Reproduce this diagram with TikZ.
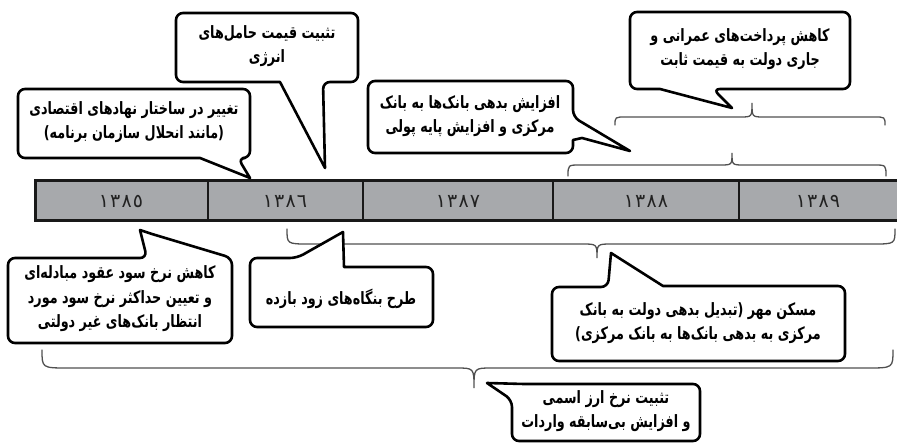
\documentclass[tikz,border=0pt]{standalone}
\usepackage{fontspec}
\newfontfamily\arabicfont[Script=Arabic,FakeStretch=0.75]{DejaVu Sans}
\newfontfamily\yearfont[Script=Arabic,LetterSpace=6]{DejaVu Sans}
\TeXXeTstate=1
\newcommand\myrl[1]{\beginR #1\endR}
\definecolor{barfill}{HTML}{A7A9AC}
\definecolor{bracecol}{HTML}{505050}
\definecolor{yearcol}{HTML}{222222}
\tikzset{
  callout/.style={draw=black, line width=2.6pt, fill=white, line join=round},
  ctext/.style={font=\arabicfont\bfseries\fontsize{17}{24.5}\selectfont, align=center, text=black, inner sep=0pt},
  bracestyle/.style={draw=bracecol, line width=1.3pt, line cap=round},
  yearlabel/.style={font=\yearfont\fontsize{19}{20}\selectfont, text=yearcol, inner sep=0pt},
  barstyle/.style={draw=black!90, line width=3pt, fill=barfill},
  divider/.style={draw=black!90, line width=2.4pt},
}
% x1 x2 xt yend yh ytip r r2
\newcommand\bracepath[8]{%
  \draw[bracestyle] (#1,#4) .. controls (#1,#5) .. ({#1+#7},#5) -- ({#3-#8},#5)
    .. controls (#3,#5) .. (#3,#6) .. controls (#3,#5) .. ({#3+#8},#5)
    -- ({#2-#7},#5) .. controls (#2,#5) .. (#2,#4);}
\begin{document}
\begin{tikzpicture}[x=1pt,y=-1pt]
\useasboundingbox[fill=white] (0,0) rectangle (897,443);

% timeline bar
\draw[barstyle] (35,181) rectangle (910,221);
\foreach \xx in {208,363,553,739} \draw[divider] (\xx,181) -- (\xx,221);
\node[yearlabel] (y85) at (121,201) {١٣٨٥};
\node[yearlabel] (y86) at (285,201) {١٣٨٦};
\node[yearlabel] (y87) at (458,201) {١٣٨٧};
\node[yearlabel] (y88) at (646,201) {١٣٨٨};
\node[yearlabel] (y89) at (818,201) {١٣٨٩};

% braces
\bracepath{615}{885}{752}{125}{117}{103}{11}{12}
\bracepath{568}{886}{732}{176}{165}{153}{12}{12}
\bracepath{287}{895}{597}{229}{244}{258}{22}{15}
\bracepath{42}{893}{474}{350}{368}{388}{26}{18}

% callout 1
\draw[callout] (176,50) [rounded corners=7pt] -- (176,13) -- (358,13) -- (358,82) -- (323,82)
  [sharp corners] -- (325,168) -- (280,82) [rounded corners=7pt] -- (176,82) -- cycle;
\node[ctext] (t1) at (267,46) {\myrl{تثبیت قیمت حامل‌های}\\\myrl{انرژی}};

% callout 2
\draw[callout] (18,120) [rounded corners=7pt] -- (18,89) -- (250,89) -- (250,158) -- (238,158)
  [sharp corners] -- (250,178) -- (200,158) [rounded corners=7pt] -- (18,158) -- cycle;
\node[ctext] (t2) at (134,122) {\myrl{تغییر در ساختار نهادهای اقتصادی}\\\myrl{(مانند انحلال سازمان برنامه)}};

% callout 3
\draw[callout] (368,117) [rounded corners=7pt] -- (368,81) -- (573,81) -- (573,117)
  [sharp corners] -- (630,151) -- (582,138) -- (573,140) [rounded corners=7pt] -- (573,153) -- (368,153) -- cycle;
\node[ctext] (t3) at (470,116) {\myrl{افزایش بدهی بانک‌ها به بانک}\\\myrl{مرکزی و افزایش پایه پولی}};

% callout 4
\draw[callout] (630,50) [rounded corners=7pt] -- (630,12) -- (850,12) -- (850,89) -- (713,89)
  [sharp corners] -- (732,108) -- (660,89) [rounded corners=7pt] -- (630,89) -- cycle;
\node[ctext] (t4) at (740,49) {\myrl{کاهش پرداخت‌های عمرانی و}\\\myrl{جاری دولت به قیمت ثابت}};

% callout 5
\draw[callout] (8,300) [rounded corners=7pt] -- (8,258) -- (147,258)
  [sharp corners] -- (140,230) -- (152,234) [rounded corners=7pt] -- (232,258) -- (232,343) -- (8,343) -- cycle;
\node[ctext] (t5) at (120,299) {\myrl{کاهش نرخ سود عقود مبادله‌ای}\\\myrl{و تعیین حداکثر نرخ سود مورد}\\\myrl{انتظار بانک‌های غیر دولتی}};

% callout 6
\draw[callout] (250,295) [rounded corners=7pt] -- (250,258) -- (297,258)
  [sharp corners] -- (343,232) -- (344,267) [rounded corners=7pt] -- (433,267) -- (433,327) -- (250,327) -- cycle;
\node[ctext] (t6) at (341,299) {\myrl{طرح بنگاه‌های زود بازده}};

% callout 7
\draw[callout] (552,320) [rounded corners=7pt] -- (552,287) -- (608,287)
  [sharp corners] -- (611,253) -- (663,286) [rounded corners=7pt] -- (845,286) -- (845,361) -- (552,361) -- cycle;
\node[ctext] (t7) at (698,323) {\myrl{مسکن مهر (تبدیل بدهی دولت به بانک}\\\myrl{مرکزی به بدهی بانک‌ها به بانک مرکزی)}};

% callout 8
\draw[callout] (512,420) [rounded corners=7pt] -- (512,400)
  [sharp corners] -- (487,383) -- (524,384) [rounded corners=7pt] -- (700,384) -- (700,441) -- (512,441) -- cycle;
\node[ctext] (t8) at (606,411) {\myrl{تثبیت نرخ ارز اسمی}\\\myrl{و افزایش بی‌سابقه واردات}};
\end{tikzpicture}
\end{document}
